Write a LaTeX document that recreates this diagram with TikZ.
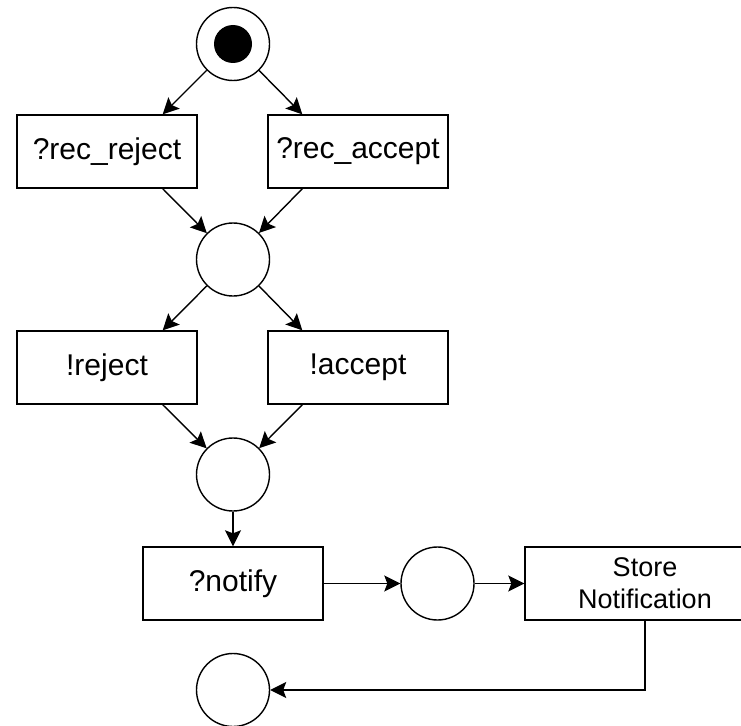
\documentclass[tikz,border=0pt]{standalone}
\usepackage{fontspec}
\setmainfont{Liberation Sans}
\usetikzlibrary{arrows.meta}

\begin{document}
\begin{tikzpicture}[x=1pt,y=-1pt,line width=1.4pt,
    >={Stealth[length=16pt,width=16pt,inset=3pt]}]

        \useasboundingbox (0,0) rectangle (741,725);
        \clip (0,0) rectangle (741,725);

        \begin{scope}[every node/.style={circle,draw,minimum size=73pt,inner sep=0pt}]
          \node (p0) at (233,44)    {};
          \node (p1) at (233,259.5) {};
          \node (p2) at (233,474.5) {};
          \node (p3) at (437.5,583.5) {};
          \node (p4) at (233,690)   {};
        \end{scope}
        \node[circle,fill,minimum size=38pt,inner sep=0pt] (tok) at (p0) {};

        \begin{scope}[every node/.style={rectangle,draw,minimum width=180pt,minimum height=73pt,
            inner sep=0pt,font=\fontsize{30}{36}\selectfont}]
          \node (rrej)  at (107,151.5)  {?rec\_reject};
          \node (racc)  at (358,151.5)  {?rec\_accept};
          \node (rej)   at (107,367.5)  {!reject};
          \node (acc)   at (358,367.5)  {!accept};
          \node (ntf)   at (233,583.5)  {?notify};
          \node[minimum width=240pt,align=center,font=\fontsize{27}{32}\selectfont]
                (store) at (645,583.5)  {Store\\Notification};
        \end{scope}

        \begin{scope}[every edge/.style={draw,->}]
          \path (p0) edge ([xshift=-35pt]rrej.north east);
          \path (p0) edge ([xshift=35pt]racc.north west);
          \path ([xshift=-35pt]rrej.south east) edge (p1);
          \path ([xshift=35pt]racc.south west) edge (p1);
          \path (p1) edge ([xshift=-35pt]rej.north east);
          \path (p1) edge ([xshift=35pt]acc.north west);
          \path ([xshift=-35pt]rej.south east) edge (p2);
          \path ([xshift=35pt]acc.south west) edge (p2);
          \path (p2)  edge (ntf);
          \path (ntf) edge (p3);
          \path (p3)  edge (store);
        \end{scope}
        \draw[->] (store) |- (p4);

      \end{tikzpicture}
\end{document}
